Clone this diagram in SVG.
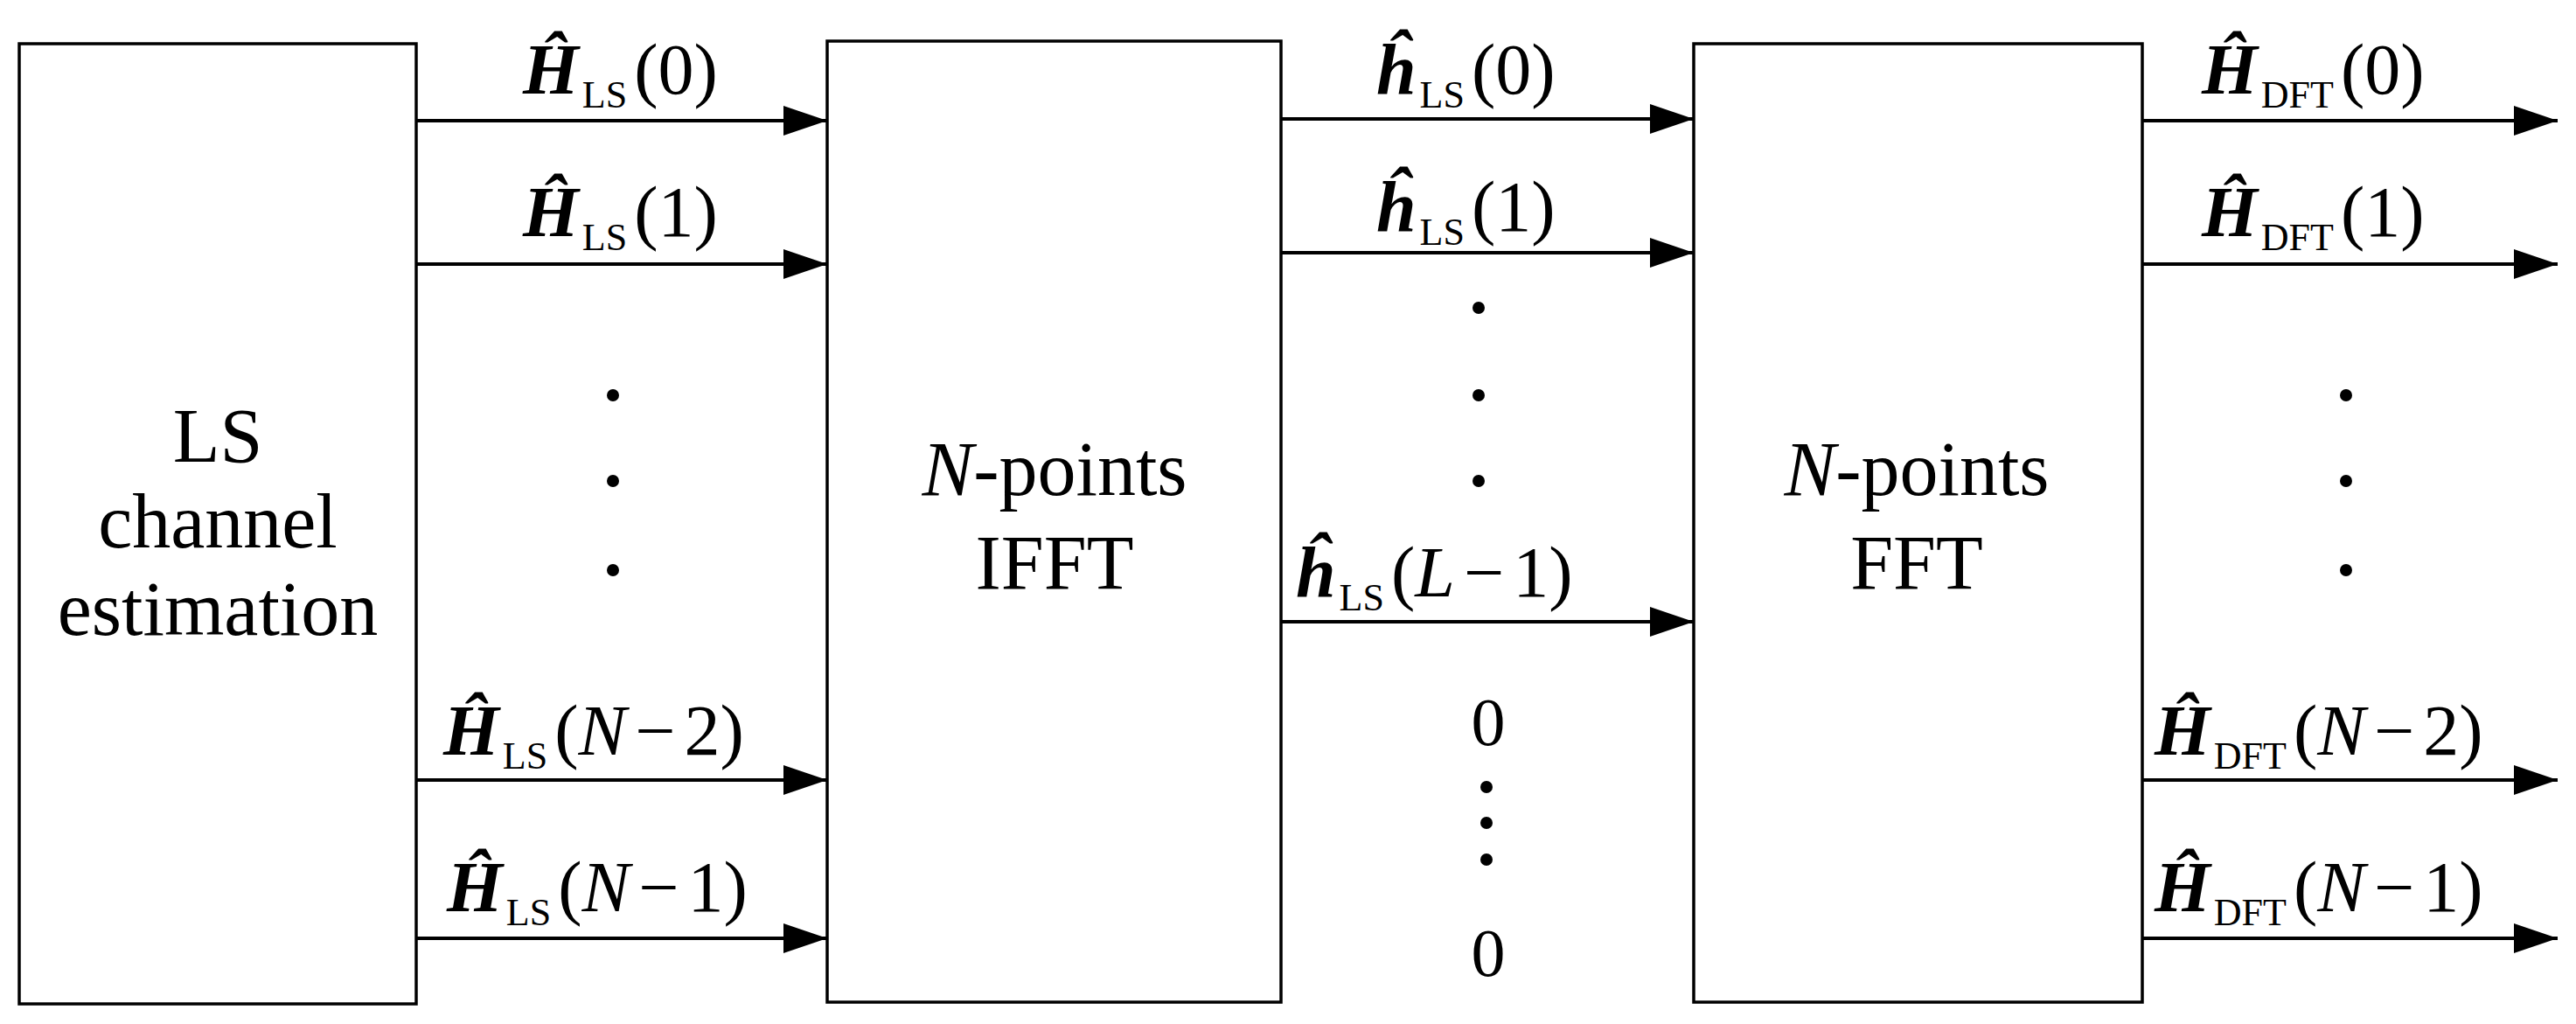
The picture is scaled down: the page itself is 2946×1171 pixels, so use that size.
<svg xmlns="http://www.w3.org/2000/svg" width="2946" height="1171" viewBox="0 0 2946 1171">
<style>
.box{fill:#fff;stroke:#000;stroke-width:3.5}
.ln{stroke:#000;stroke-width:4;fill:none;marker-end:url(#ah)}
text{font-family:"Liberation Serif",serif;fill:#000}
.bt{font-size:88px;text-anchor:middle}
.m{font-size:82px}
.v{font-weight:bold;font-style:italic}
.s{font-size:44px}
.i{font-style:italic}
.z{font-size:78px;text-anchor:middle}
</style>
<defs>
<marker id="ah" markerUnits="userSpaceOnUse" markerWidth="52" markerHeight="36" refX="50" refY="17" orient="auto">
<path d="M0,0 L50,17 L0,34 Z" fill="#000"/>
</marker>
<circle id="dot" r="7" fill="#000"/>
</defs>
<g id="ls"><rect class="box" x="22" y="50" width="454" height="1098"/>
<text class="bt" x="249" y="528">LS</text><text class="bt" x="249" y="626">channel</text><text class="bt" x="249" y="726">estimation</text></g>
<g id="ifft"><rect class="box" x="946" y="47" width="519" height="1099"/>
<text class="bt" x="1206" y="566"><tspan class="i">N</tspan>-points</text><text class="bt" x="1206" y="673">IFFT</text></g>
<g id="fft"><rect class="box" x="1937" y="50" width="513" height="1096"/>
<text class="bt" x="2192" y="566"><tspan class="i">N</tspan>-points</text><text class="bt" x="2192" y="673">FFT</text></g>
<g id="connectors">
<line class="ln" x1="476" y1="138" x2="946" y2="138"/>
<line class="ln" x1="476" y1="302" x2="946" y2="302"/>
<line class="ln" x1="476" y1="892" x2="946" y2="892"/>
<line class="ln" x1="476" y1="1073" x2="946" y2="1073"/>
<line class="ln" x1="1465" y1="136" x2="1937" y2="136"/>
<line class="ln" x1="1465" y1="289" x2="1937" y2="289"/>
<line class="ln" x1="1465" y1="711" x2="1937" y2="711"/>
<line class="ln" x1="2450" y1="138" x2="2925" y2="138"/>
<line class="ln" x1="2450" y1="302" x2="2925" y2="302"/>
<line class="ln" x1="2450" y1="892" x2="2925" y2="892"/>
<line class="ln" x1="2450" y1="1073" x2="2925" y2="1073"/>
</g>
<g id="labels">
<text class="m" x="598" y="107"><tspan class="v">Ĥ</tspan><tspan class="s" dx="4" dy="16">LS</tspan><tspan dx="8" dy="-16">(0)</tspan></text>
<text class="m" x="598" y="270"><tspan class="v">Ĥ</tspan><tspan class="s" dx="4" dy="16">LS</tspan><tspan dx="8" dy="-16">(1)</tspan></text>
<text class="m" x="507" y="863"><tspan class="v">Ĥ</tspan><tspan class="s" dx="4" dy="16">LS</tspan><tspan dx="8" dy="-16">(</tspan><tspan class="i">N</tspan><tspan dx="10">−</tspan><tspan dx="10">2)</tspan></text>
<text class="m" x="511" y="1042"><tspan class="v">Ĥ</tspan><tspan class="s" dx="4" dy="16">LS</tspan><tspan dx="8" dy="-16">(</tspan><tspan class="i">N</tspan><tspan dx="10">−</tspan><tspan dx="10">1)</tspan></text>
<use href="#dot" x="701" y="452"/><use href="#dot" x="701" y="550"/><use href="#dot" x="701" y="652"/>
<text class="m" x="1574" y="107"><tspan class="v">ĥ</tspan><tspan class="s" dx="4" dy="16">LS</tspan><tspan dx="8" dy="-16">(0)</tspan></text>
<text class="m" x="1574" y="264"><tspan class="v">ĥ</tspan><tspan class="s" dx="4" dy="16">LS</tspan><tspan dx="8" dy="-16">(1)</tspan></text>
<text class="m" x="1482" y="682"><tspan class="v">ĥ</tspan><tspan class="s" dx="4" dy="16">LS</tspan><tspan dx="8" dy="-16">(</tspan><tspan class="i">L</tspan><tspan dx="10">−</tspan><tspan dx="10">1)</tspan></text>
<use href="#dot" x="1691" y="352"/><use href="#dot" x="1691" y="452"/><use href="#dot" x="1691" y="550"/>
<text class="z" x="1702" y="852">0</text>
<use href="#dot" x="1700" y="900"/><use href="#dot" x="1700" y="941"/><use href="#dot" x="1700" y="983"/>
<text class="z" x="1702" y="1116">0</text>
<text class="m" x="2518" y="107"><tspan class="v">Ĥ</tspan><tspan class="s" dx="4" dy="16">DFT</tspan><tspan dx="8" dy="-16">(0)</tspan></text>
<text class="m" x="2518" y="270"><tspan class="v">Ĥ</tspan><tspan class="s" dx="4" dy="16">DFT</tspan><tspan dx="8" dy="-16">(1)</tspan></text>
<use href="#dot" x="2683" y="452"/><use href="#dot" x="2683" y="550"/><use href="#dot" x="2683" y="652"/>
<text class="m" x="2464" y="863"><tspan class="v">Ĥ</tspan><tspan class="s" dx="4" dy="16">DFT</tspan><tspan dx="8" dy="-16">(</tspan><tspan class="i">N</tspan><tspan dx="10">−</tspan><tspan dx="10">2)</tspan></text>
<text class="m" x="2464" y="1042"><tspan class="v">Ĥ</tspan><tspan class="s" dx="4" dy="16">DFT</tspan><tspan dx="8" dy="-16">(</tspan><tspan class="i">N</tspan><tspan dx="10">−</tspan><tspan dx="10">1)</tspan></text>
</g>
</svg>
